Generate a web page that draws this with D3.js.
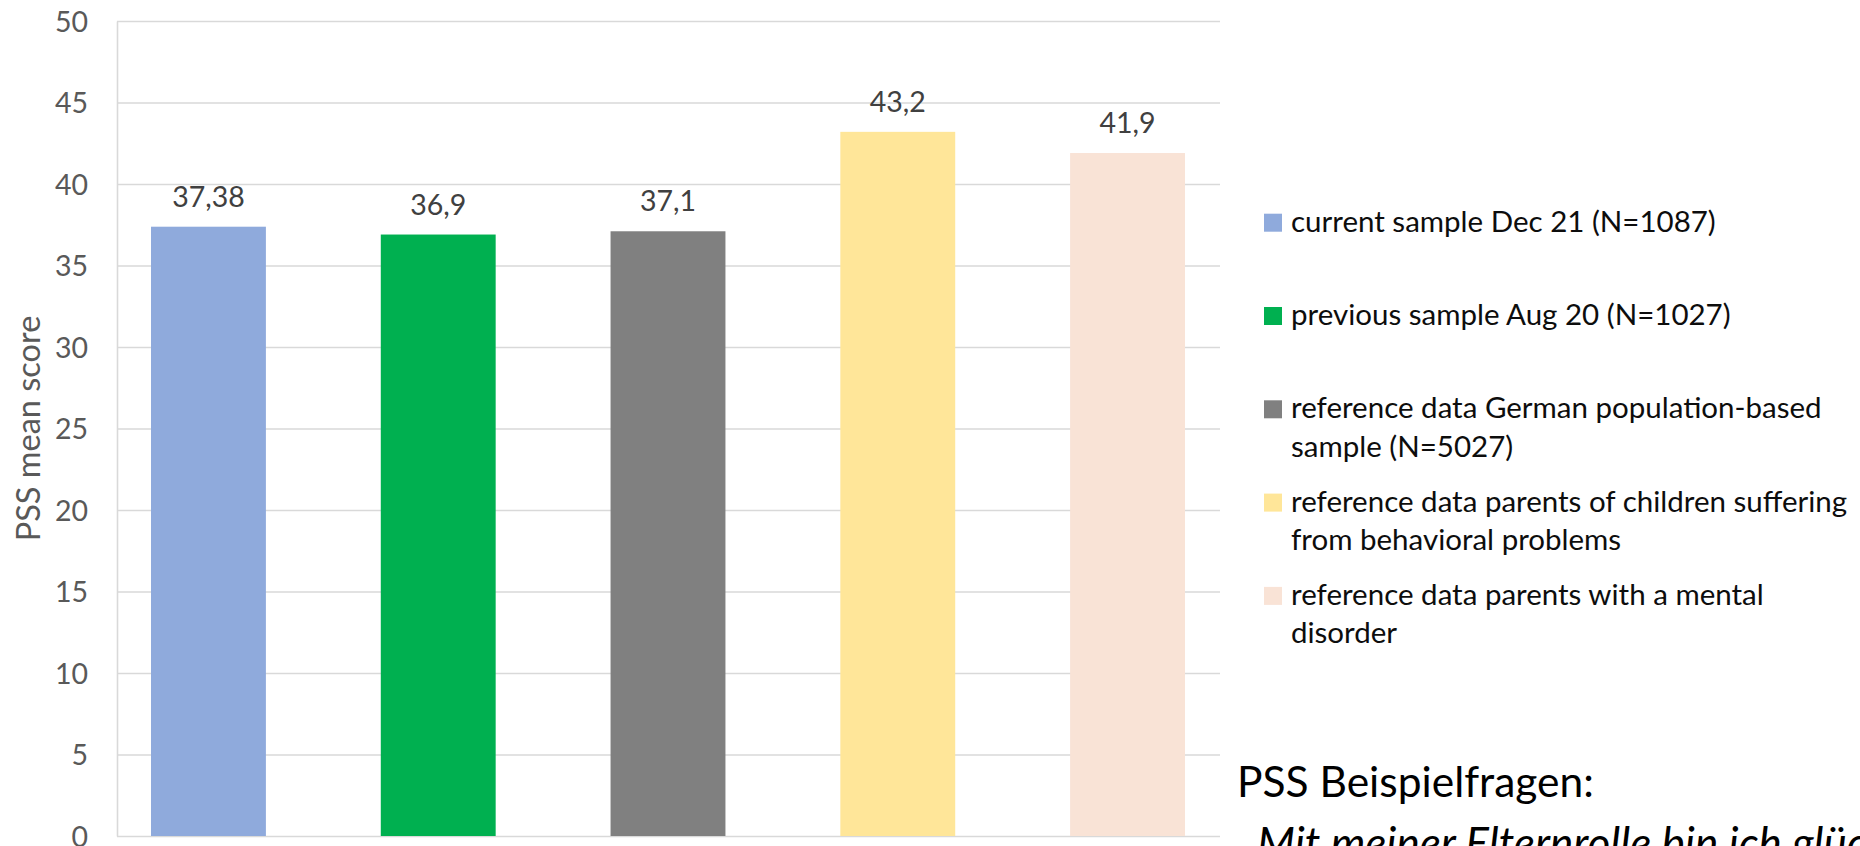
<!DOCTYPE html>
<html>
<head>
<meta charset="utf-8">
<script src="https://cdn.jsdelivr.net/npm/d3@7"></script>
<style>
  html, body { margin: 0; padding: 0; background: #fff; overflow: hidden; }
  svg { display: block; }
</style>
</head>
<body>
<div id="chart"></div>
<script>
// PSS mean score — bar chart with legend on the right (slide export, 1860x846)

const categories = [
  "current sample Dec 21 (N=1087)",
  "previous sample Aug 20 (N=1027)",
  "reference data German population-based\nsample (N=5027)",
  "reference data parents of children suffering\nfrom behavioral problems",
  "reference data parents with a mental\ndisorder",
]
const values = [37.38, 36.9, 37.1, 43.2, 41.9]
const barColors = ["#8FAADC", "#00B050", "#808080", "#FFE699", "#F9E3D6"]
const yTicks = [0, 5, 10, 15, 20, 25, 30, 35, 40, 45, 50]
const axisTitle = "PSS mean score"
const noteTitle = "PSS Beispielfragen:"
const noteItem = "Mit meiner Elternrolle bin ich glücklich."

const W = 1860, H = 846
const FONT = "Lato, 'Open Sans', sans-serif"
const grid = "#D9D9D9"

// zone du graphe (axe Y à gauche, quadrillage jusqu'à 1220)
const plot = { left: 117, right: 1220, top: 21, bottom: 836 }

const svg = d3.select("#chart").append("svg")
  .attr("width", W).attr("height", H)
  .attr("viewBox", `0 0 ${W} ${H}`)
  .style("font-family", FONT)

const y = d3.scaleLinear().domain([0, 50]).range([plot.bottom, plot.top])

const x = d3.scaleBand()
  .domain(d3.range(values.length))
  .range([plot.left, plot.right - 1])
  .paddingInner(0.5)
  .paddingOuter(0.148)

// Axe Y + quadrillage horizontal
const yAxis = svg.append("g")
  .attr("transform", `translate(${plot.left},0)`)
  .call(d3.axisLeft(y)
    .tickValues(yTicks)
    .tickSize(-(plot.right - plot.left))
    .tickSizeOuter(0)
    .tickPadding(29)
    .tickFormat(d3.format("d")))

yAxis.select(".domain").attr("stroke", grid).attr("stroke-width", 1.6)
yAxis.selectAll(".tick line").attr("stroke", grid).attr("stroke-width", 1.4)
yAxis.selectAll(".tick text")
  .attr("fill", "#595959")
  .attr("font-size", 28.5)
  .attr("font-family", FONT)
  .attr("dy", "0.36em")

// Titre axe Y
svg.append("text")
  .attr("transform", `translate(40,${(plot.top + plot.bottom) / 2}) rotate(-90)`)
  .attr("text-anchor", "middle")
  .attr("fill", "#595959")
  .attr("font-size", 32.5)
  .text(axisTitle)

// Barres
svg.append("g").selectAll("rect")
  .data(values)
  .join("rect")
  .attr("x", (_, i) => x(i))
  .attr("width", x.bandwidth())
  .attr("y", (d) => y(d))
  .attr("height", (d) => y(0) - y(d))
  .attr("fill", (_, i) => barColors[i])

// Étiquettes de valeur (virgule décimale)
svg.append("g").selectAll("text")
  .data(values)
  .join("text")
  .attr("x", (_, i) => x(i) + x.bandwidth() / 2)
  .attr("y", (d) => y(d) - 20)
  .attr("text-anchor", "middle")
  .attr("fill", "#404040")
  .attr("font-size", 28.5)
  .text((d) => String(d).replace(".", ","))

// Légende
const legend = { x: 1264, y0: 231.7, step: 93.3, lineH: 38.5, box: 18 }
const items = svg.append("g").selectAll("g")
  .data(categories)
  .join("g")
  .attr("transform", (_, i) => `translate(${legend.x},${legend.y0 + i * legend.step})`)

items.append("rect")
  .attr("x", 0).attr("y", -legend.box)
  .attr("width", legend.box).attr("height", legend.box)
  .attr("fill", (_, i) => barColors[i])

items.append("text")
  .attr("fill", "#0D0D0D")
  .attr("font-size", 29.5)
  .each(function (d) {
    d3.select(this).selectAll("tspan")
      .data(d.split("\n"))
      .join("tspan")
      .attr("x", 27)
      .attr("y", (_, j) => j * legend.lineH)
      .text((s) => s)
  })

// Texte de la diapositive (en bas à droite, coupé par le bord)
svg.append("text")
  .attr("x", 1237).attr("y", 797)
  .attr("fill", "#000")
  .attr("font-size", 42.5)
  .text(noteTitle)

svg.append("text")
  .attr("x", 1257).attr("y", 859)
  .attr("fill", "#000")
  .attr("font-size", 44)
  .attr("font-style", "italic")
  .text(noteItem)
</script>
</body>
</html>
